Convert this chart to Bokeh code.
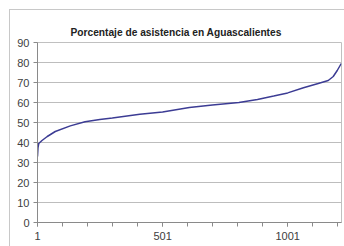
from bokeh.plotting import figure
from bokeh.models import Range1d, FixedTicker, Title
from bokeh.embed import file_html
from bokeh.resources import INLINE

# Data (index of record, attendance percentage)
idx = [1, 3, 6, 19, 40, 72, 132, 191, 250, 300, 410, 501, 608, 700, 806, 880, 945, 1001, 1064, 1123, 1163, 1183, 1199, 1215]
pct = [33, 37.5, 39.5, 41, 43, 45.5, 48.3, 50.4, 51.5, 52.2, 54.1, 55.3, 57.5, 58.8, 60, 61.5, 63.2, 64.8, 67.4, 69.5, 71, 73, 76, 79.5]
x_ticks = [1, 501, 1001]
x_minor = [1 + 100 * k for k in range(13)]
y_ticks = [0, 10, 20, 30, 40, 50, 60, 70, 80, 90]
title_text = "Porcentaje de asistencia en Aguascalientes"

p = figure(width=344, height=246, output_backend="svg", toolbar_location=None,
           x_range=Range1d(1, 1216), y_range=Range1d(0, 90),
           min_border_left=37, min_border_right=3, min_border_top=42, min_border_bottom=24)

# outer chart-area border (left and top edges visible), drawn as page background
p.border_fill_color = None
p.styles = {
    "background": "linear-gradient(#c8c8c8, #c8c8c8) 9px 9px / 1px 100% no-repeat, "
                  "linear-gradient(#c8c8c8, #c8c8c8) 9px 9px / 100% 1px no-repeat, white"
}

t = Title(text=title_text, align="left", offset=33, text_font="Liberation Sans",
          text_font_size="10.2px", text_font_style="bold", text_color="#222222", standoff=9)
p.add_layout(t, "above")

p.line(idx, pct, line_color="#3c3c94", line_width=1.5)

p.background_fill_color = "white"
p.outline_line_color = "#c0c0c0"

p.xgrid.visible = False
p.ygrid.grid_line_color = "#bdbdbd"
p.ygrid.ticker = FixedTicker(ticks=y_ticks)

p.yaxis.ticker = FixedTicker(ticks=y_ticks)
p.xaxis.ticker = FixedTicker(ticks=x_ticks, minor_ticks=x_minor)

for ax in (p.xaxis, p.yaxis):
    ax.axis_line_color = "#8a8a8a"
    ax.major_tick_line_color = "#8a8a8a"
    ax.minor_tick_line_color = "#8a8a8a"
    ax.major_tick_out = 4
    ax.major_tick_in = 0
    ax.minor_tick_in = 0
    ax.major_label_text_font = "Liberation Sans"
    ax.major_label_text_font_size = "11px"
    ax.major_label_text_color = "#404040"
p.yaxis.minor_tick_line_color = None
p.xaxis.minor_tick_out = 4
p.yaxis.major_label_standoff = 4
p.xaxis.major_label_standoff = 5

open("out.html", "w").write(file_html(p, INLINE))
